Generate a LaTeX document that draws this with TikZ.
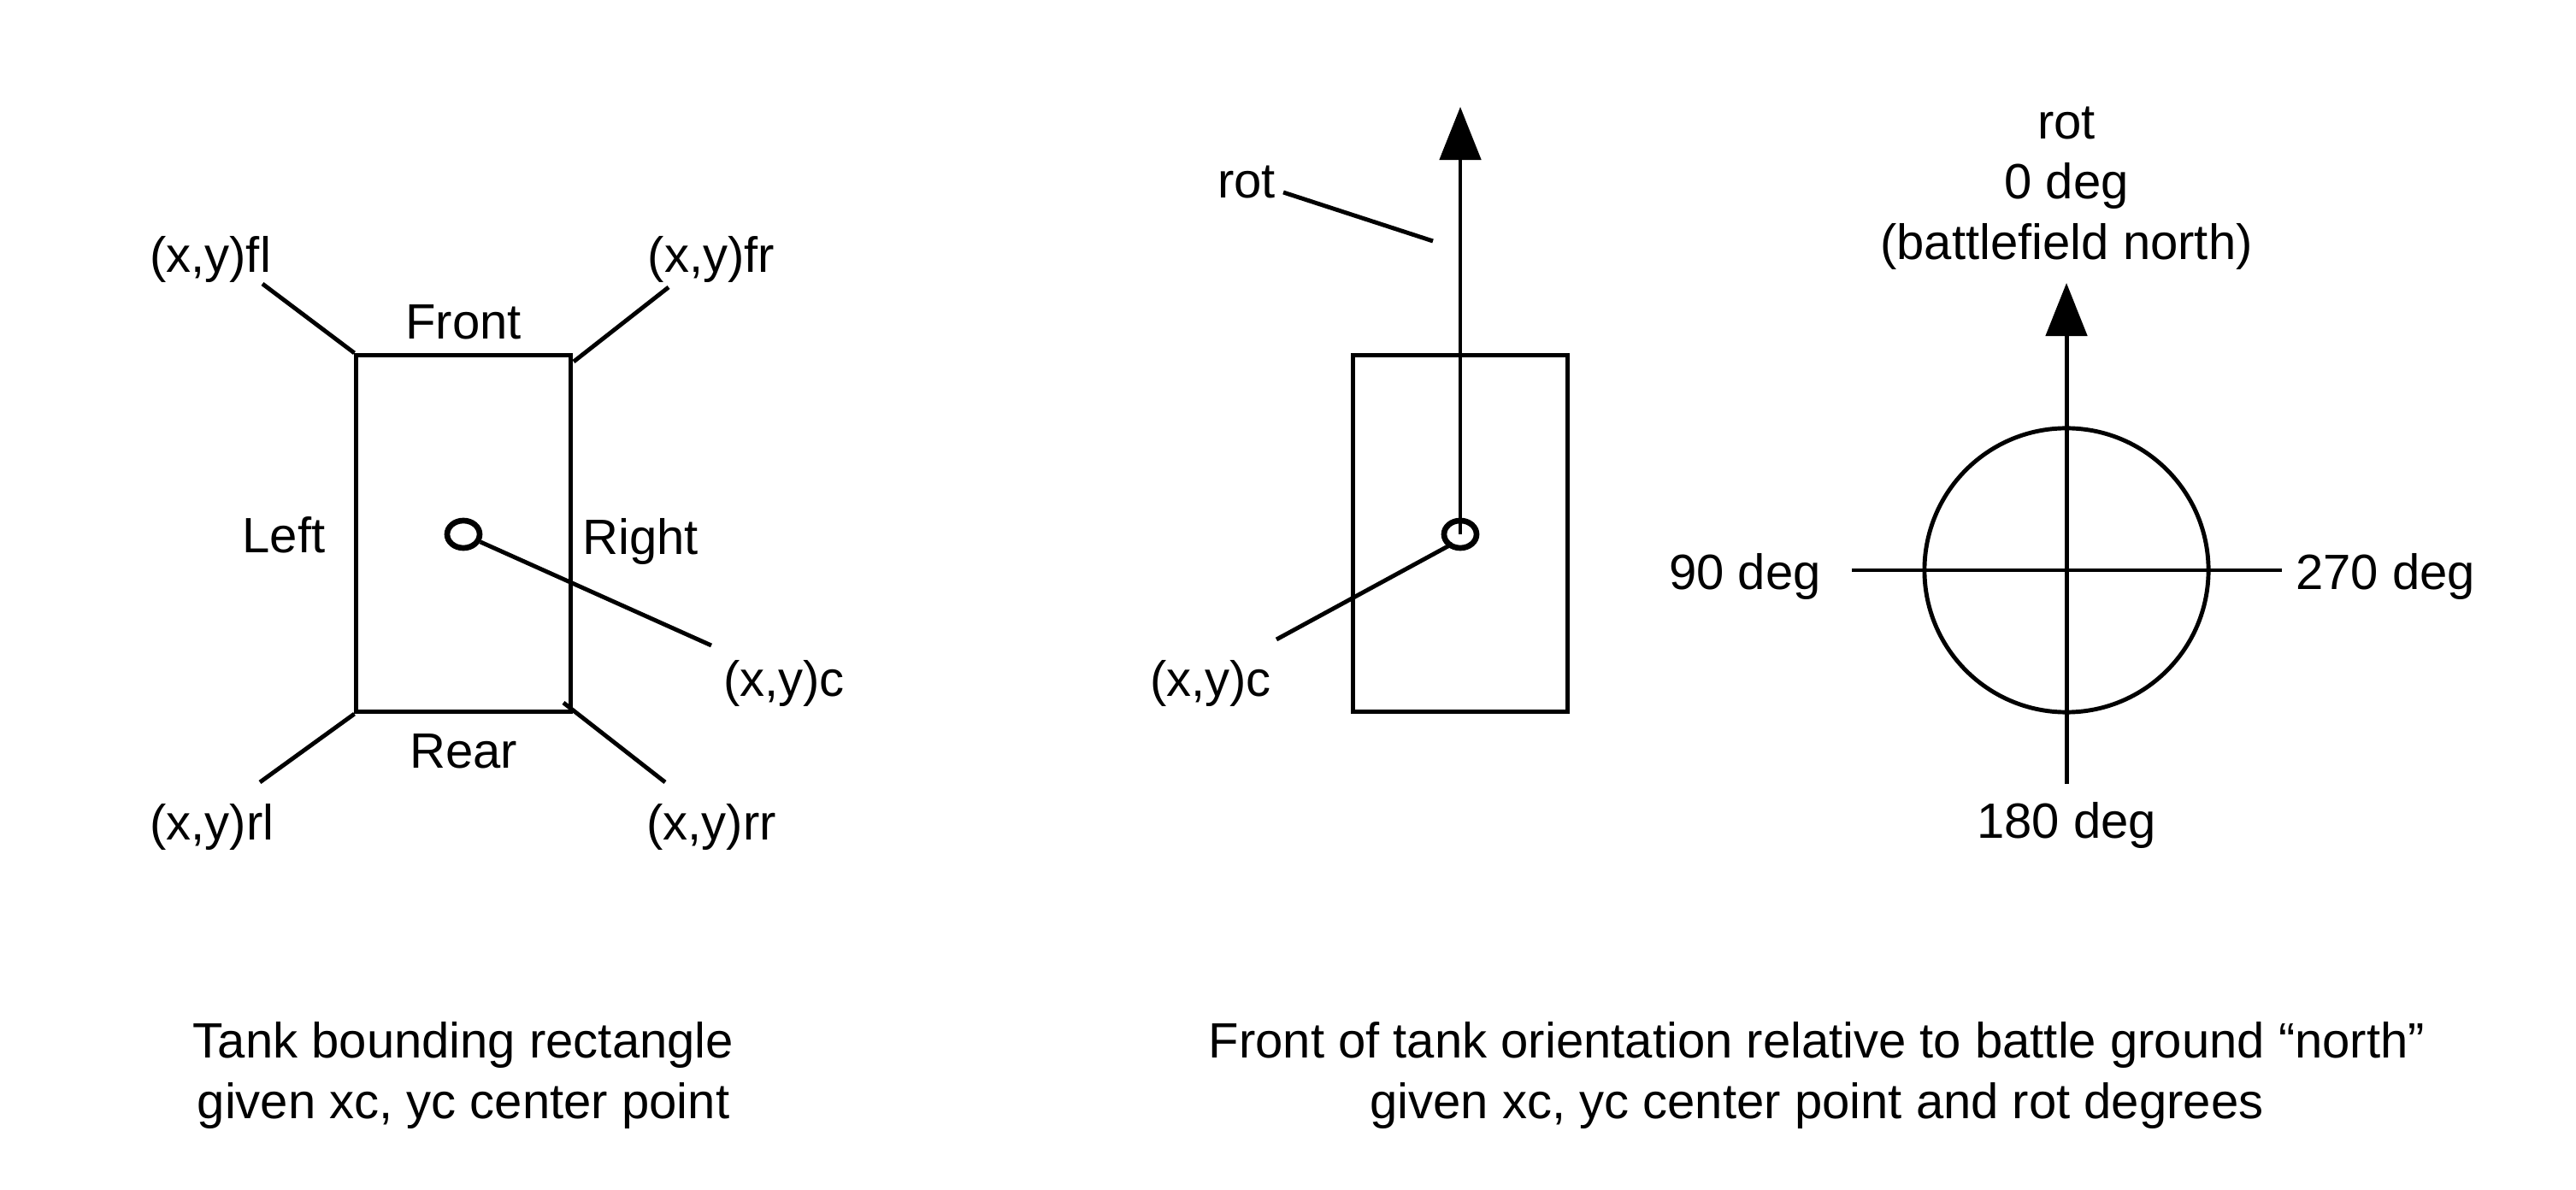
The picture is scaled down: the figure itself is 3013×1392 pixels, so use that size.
\documentclass[tikz,border=0pt]{standalone}
\usepackage{fontspec}
\setmainfont{Liberation Sans}
\usetikzlibrary{positioning,arrows.meta,shapes.geometric}

\tikzset{
  lbl/.style={inner sep=0pt, font=\fontsize{16.5}{20}\selectfont, align=center},
  ln/.style={line width=1.4pt},
  tankbox/.style={draw, line width=1.4pt, minimum width=2.5cm, minimum height=4.17cm, inner sep=0pt},
  hub/.style={draw, ellipse, line width=1.9pt, minimum width=0.38cm, minimum height=0.32cm, inner sep=0pt},
  northtip/.style={-{Triangle[length=6.2mm, width=4.8mm]}},
}

\begin{document}
\begin{tikzpicture}[x=0.01cm, y=-0.01cm]
  \useasboundingbox (0,0) rectangle (3013,1392);

  % tank bounding rectangle
  \node[tankbox] (tankA) at (542,624) {};
  \node[hub] (hubA) at (542,625) {};
  \node[lbl] (front) at (542,377) {Front};
  \node[lbl] (rear) at (542,879) {Rear};
  \node[lbl] (leftside) at (332,626) {Left};
  \node[lbl] (rightside) at (749,634) {Right};
  \node[lbl] (fl) at (246,304) {(x,y)fl};
  \node[lbl] (fr) at (832,304) {(x,y)fr};
  \node[lbl] (rl) at (248,967) {(x,y)rl};
  \node[lbl] (rr) at (832,967) {(x,y)rr};
  \node[lbl] (ctrA) at (917,799) {(x,y)c};
  \coordinate (flEnd) at (307,332);
  \coordinate (frEnd) at (782,336);
  \coordinate (rlEnd) at (304,915);
  \coordinate (rrEnd) at (778,915);
  \coordinate (rrIn) at (659,822);
  \coordinate (frIn) at (671,423);
  \coordinate (ctrAEnd) at (832,755);
  \draw[ln] (flEnd) -- (tankA.north west);
  \draw[ln] (frEnd) -- (frIn);
  \draw[ln] (rlEnd) -- (tankA.south west);
  \draw[ln] (rrEnd) -- (rrIn);
  \draw[ln] (hubA) -- (ctrAEnd);

  % orientation of the front
  \node[tankbox] (tankB) at (1708,624) {};
  \node[hub] (hubB) at (1708,625) {};
  \coordinate (tipB) at (1708,125);
  \draw[ln, northtip] (hubB.center) -- (tipB);
  \node[lbl] (rotB) at (1458,213) {rot};
  \node[lbl] (ctrB) at (1416,799) {(x,y)c};
  \coordinate (rotEnd) at (1501,225);
  \coordinate (rotIn) at (1676,282);
  \coordinate (ctrBEnd) at (1493,748);
  \coordinate (ctrBIn) at (1699,636);
  \draw[ln] (rotEnd) -- (rotIn);
  \draw[ln] (ctrBEnd) -- (ctrBIn);

  % compass
  \node[draw, circle, ln, minimum size=3.32cm, inner sep=0pt] (compass) at (2417,667) {};
  \coordinate (south) at (2417,917);
  \coordinate (north) at (2417,331);
  \coordinate (west) at (2166,667);
  \coordinate (east) at (2669,667);
  \draw[ln, northtip] (south) -- (north);
  \draw[ln] (west) -- (east);
  \node[lbl] (zero) at (2417,220) {rot\\0 deg\\(battlefield north)};
  \node[lbl] (ninety) at (2041,675) {90 deg};
  \node[lbl] (twoseventy) at (2790,675) {270 deg};
  \node[lbl] (oneeighty) at (2417,965) {180 deg};

  % captions
  \node[lbl] (capA) at (542,1258) {Tank bounding rectangle\\given xc, yc center point};
  \node[lbl] (capB) at (2125,1258) {Front of tank orientation relative to battle ground “north”\\given xc, yc center point and rot degrees};
\end{tikzpicture}
\end{document}
